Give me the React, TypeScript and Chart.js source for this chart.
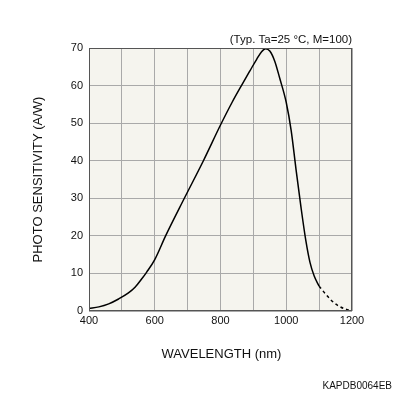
import React, { useEffect, useRef } from "react";
import { Chart, registerables } from "chart.js";

Chart.register(...registerables);

const solidWavelength = [400, 430, 460, 490, 520, 540, 560, 575, 600, 633, 690, 748, 800, 835, 865, 890, 910, 925, 937, 950, 965, 980, 1000, 1015, 1030, 1045, 1060, 1072, 1085, 1100];
const solidSensitivity = [0.7, 1.1, 1.9, 3.2, 4.8, 6.3, 8.5, 10.3, 13.7, 20, 30, 40, 49.5, 55.5, 60.2, 64, 67, 69, 69.8, 69.2, 66.5, 62, 55.5, 48, 37.5, 27.5, 18.5, 13, 9.3, 6.6];
const dashedWavelength = [1100, 1120, 1140, 1160, 1180, 1200];
const dashedSensitivity = [6.6, 4.5, 2.6, 1.3, 0.5, 0];
const xTickLabels = [400, 600, 800, 1000, 1200];
const yTicks = [0, 10, 20, 30, 40, 50, 60, 70];

const conditionText = "(Typ. Ta=25 °C, M=100)";
const xTitle = "WAVELENGTH (nm)";
const yTitle = "PHOTO SENSITIVITY (A/W)";
const codeText = "KAPDB0064EB";

const FONT = "'Liberation Sans', Arial, sans-serif";

export default function App() {
  const ref = useRef<HTMLCanvasElement | null>(null);
  useEffect(() => {
    if (!ref.current) return;
    const decor = {
      id: "decor",
      beforeDraw(chart: any) {
        const { ctx, chartArea: a } = chart;
        ctx.save();
        ctx.fillStyle = "#f5f4ee";
        ctx.fillRect(a.left, a.top, a.right - a.left, a.bottom - a.top);
        ctx.restore();
      },
      afterDraw(chart: any) {
        const { ctx, chartArea: a } = chart;
        ctx.save();
        ctx.strokeStyle = "#555";
        ctx.lineWidth = 1;
        ctx.strokeRect(a.left + 0.5, a.top + 0.5, a.right - a.left - 1, a.bottom - a.top - 1);
        ctx.fillStyle = "#111";
        ctx.font = `11.5px ${FONT}`;
        ctx.textAlign = "right";
        ctx.textBaseline = "alphabetic";
        ctx.fillText(conditionText, a.right, a.top - 5);
        ctx.font = `13px ${FONT}`;
        ctx.textAlign = "center";
        ctx.fillText(xTitle, (a.left + a.right) / 2 + 1, 358);
        ctx.save();
        ctx.translate(42, (a.top + a.bottom) / 2);
        ctx.rotate(-Math.PI / 2);
        ctx.fillText(yTitle, 0, 0);
        ctx.restore();
        ctx.font = `10px ${FONT}`;
        ctx.textAlign = "right";
        ctx.fillText(codeText, 392, 389);
        ctx.restore();
      },
    };
    const chart = new Chart(ref.current, {
      type: "line",
      data: {
        datasets: [
          {
            data: solidWavelength.map((x, i) => ({ x, y: solidSensitivity[i] })),
            borderColor: "#000",
            borderWidth: 1.5,
            pointRadius: 0,
            cubicInterpolationMode: "monotone",
            fill: false,
          },
          {
            data: dashedWavelength.map((x, i) => ({ x, y: dashedSensitivity[i] })),
            borderColor: "#000",
            borderWidth: 1.5,
            borderDash: [3, 3],
            pointRadius: 0,
            cubicInterpolationMode: "monotone",
            fill: false,
          },
        ],
      },
      options: {
        animation: false,
        responsive: false,
        layout: { padding: { left: 0, top: 48, right: 44, bottom: 61 } },
        plugins: { legend: { display: false }, tooltip: { enabled: false } },
        scales: {
          x: {
            type: "linear",
            min: 400,
            max: 1200,
            ticks: {
              stepSize: 100,
              color: "#111",
              font: { family: FONT, size: 11 },
              padding: 3,
              maxRotation: 0,
              autoSkip: false,
              callback: (v: any) => (xTickLabels.includes(Number(v)) ? String(v) : ""),
            },
            grid: { color: "#a9a9a9", drawTicks: false, lineWidth: 1 },
            border: { display: false },
            afterFit: (s: any) => { s.height = 24; },
          },
          y: {
            type: "linear",
            min: 0,
            max: 70,
            ticks: {
              stepSize: 10,
              color: "#111",
              font: { family: FONT, size: 11 },
              padding: 6,
              autoSkip: false,
              callback: (v: any) => (yTicks.includes(Number(v)) ? String(v) : ""),
            },
            grid: { color: "#a9a9a9", drawTicks: false, lineWidth: 1 },
            border: { display: false },
            afterFit: (s: any) => { s.width = 89; },
          },
        },
      },
      plugins: [decor],
    } as any);
    return () => chart.destroy();
  }, []);
  return (
    <div style={{ position: "fixed", left: 0, top: 0, width: 396, height: 396, background: "#fff" }}>
      <canvas ref={ref} width={396} height={396} style={{ width: 396, height: 396 }} />
    </div>
  );
}
